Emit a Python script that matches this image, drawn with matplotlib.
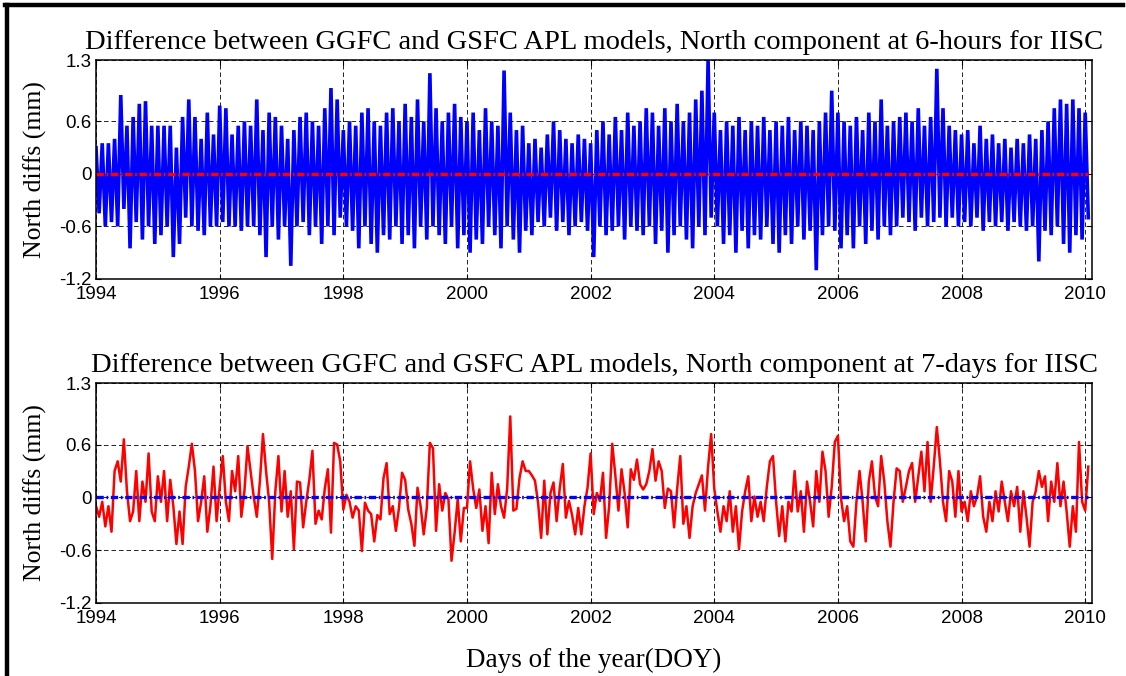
import numpy as np
import matplotlib
matplotlib.use("Agg")
import matplotlib.pyplot as plt
from matplotlib.lines import Line2D

# North component differences (mm)
# 6-hour series: upper / lower excursion in each 0.1-year bin, 1994.0 onwards
north_6h_hi = [
    0.30, 0.35, 0.35, 0.40, 0.90, 0.55, 0.65, 0.80, 0.83, 0.55,
    0.55, 0.55, 0.55, 0.30, 0.65, 0.85, 0.65, 0.40, 0.70, 0.45,
    0.78, 0.75, 0.45, 0.55, 0.60, 0.55, 0.85, 0.50, 0.70, 0.65,
    0.55, 0.40, 0.50, 0.65, 0.70, 0.60, 0.55, 0.75, 0.98, 0.85,
    0.50, 0.60, 0.55, 0.70, 0.75, 0.60, 0.55, 0.70, 0.75, 0.60,
    0.80, 0.65, 0.85, 0.60, 1.15, 0.75, 0.60, 0.70, 0.80, 0.65,
    0.60, 0.70, 0.50, 0.75, 0.60, 0.55, 1.18, 0.70, 0.50, 0.55,
    0.35, 0.40, 0.30, 0.45, 0.60, 0.50, 0.40, 0.35, 0.45, 0.40,
    0.35, 0.50, 0.60, 0.45, 0.65, 0.50, 0.70, 0.55, 0.60, 0.75,
    0.70, 0.55, 0.75, 0.60, 0.80, 0.60, 0.70, 0.85, 0.95, 1.30,
    0.70, 0.50, 0.60, 0.55, 0.65, 0.50, 0.60, 0.55, 0.65, 0.50,
    0.60, 0.55, 0.65, 0.50, 0.60, 0.55, 0.50, 0.60, 0.70, 0.95,
    0.70, 0.60, 0.55, 0.65, 0.50, 0.70, 0.60, 0.85, 0.55, 0.60,
    0.65, 0.70, 0.60, 0.75, 0.55, 0.65, 1.20, 0.75, 0.55, 0.50,
    0.45, 0.50, 0.35, 0.55, 0.40, 0.45, 0.35, 0.40, 0.30, 0.40,
    0.35, 0.45, 0.40, 0.50, 0.60, 0.75, 0.85, 0.80, 0.85, 0.75,
    0.70,
]
north_6h_lo = [
    -0.45, -0.60, -0.55, -0.60, -0.40, -0.85, -0.55, -0.75, -0.60, -0.80,
    -0.70, -0.60, -0.95, -0.80, -0.50, -0.60, -0.65, -0.70, -0.60, -0.60,
    -0.55, -0.60, -0.60, -0.65, -0.60, -0.60, -0.70, -0.95, -0.60, -0.75,
    -0.60, -1.05, -0.60, -0.55, -0.70, -0.60, -0.80, -0.60, -0.70, -0.50,
    -0.60, -0.65, -0.85, -0.60, -0.80, -0.90, -0.70, -0.75, -0.60, -0.80,
    -0.70, -0.85, -0.60, -0.75, -0.60, -0.70, -0.80, -0.60, -0.85, -0.70,
    -0.90, -0.75, -0.80, -0.60, -0.70, -0.85, -0.60, -0.75, -0.90, -0.65,
    -0.70, -0.55, -0.60, -0.50, -0.65, -0.55, -0.70, -0.60, -0.55, -0.65,
    -0.95, -0.60, -0.70, -0.65, -0.60, -0.75, -0.60, -0.65, -0.70, -0.60,
    -0.80, -0.65, -0.90, -0.70, -0.60, -0.75, -0.85, -0.60, -0.70, -0.50,
    -0.60, -0.80, -0.70, -0.90, -0.65, -0.85, -0.70, -0.75, -0.60, -0.80,
    -0.90, -0.70, -0.80, -0.60, -0.75, -0.65, -1.10, -0.70, -0.60, -0.65,
    -0.85, -0.70, -0.85, -0.60, -0.80, -0.65, -0.75, -0.60, -0.70, -0.60,
    -0.50, -0.55, -0.65, -0.50, -0.60, -0.55, -0.50, -0.60, -0.50, -0.60,
    -0.55, -0.60, -0.50, -0.65, -0.55, -0.60, -0.55, -0.65, -0.55, -0.60,
    -0.65, -0.60, -1.00, -0.65, -0.70, -0.60, -0.80, -0.90, -0.70, -0.75,
    -0.50,
]

# 7-day series, one value every 0.05 year from 1994.0
north_7d = [
    -0.10, -0.22, -0.05, -0.33, -0.10, -0.39, 0.30, 0.41, 0.18, 0.66,
    0.07, -0.27, -0.16, 0.30, -0.27, 0.18, -0.05, 0.50, -0.16, -0.27,
    0.24, -0.05, 0.30, -0.27, 0.20, -0.10, -0.53, -0.16, -0.53, 0.12,
    0.35, 0.61, 0.30, -0.27, -0.05, 0.24, -0.39, -0.10, 0.35, -0.27,
    0.12, 0.47, -0.05, -0.27, 0.30, 0.07, 0.47, -0.22, 0.07, 0.58,
    0.30, 0.01, -0.22, 0.18, 0.72, 0.30, -0.05, -0.70, 0.07, 0.47,
    -0.16, 0.30, -0.22, 0.07, -0.59, 0.18, 0.17, -0.34, -0.05, 0.20,
    0.53, -0.30, -0.15, -0.25, 0.10, 0.32, -0.40, 0.62, 0.60, 0.41,
    -0.14, 0.03, -0.05, -0.23, -0.10, -0.15, -0.61, -0.06, -0.15, -0.19,
    -0.50, -0.20, -0.25, 0.22, 0.39, -0.19, -0.10, -0.38, -0.12, 0.28,
    0.20, -0.14, -0.30, -0.55, 0.11, -0.10, -0.42, -0.12, 0.62, 0.56,
    -0.38, 0.15, -0.15, 0.05, -0.02, -0.72, -0.40, -0.02, -0.50, -0.12,
    -0.12, 0.41, 0.10, -0.12, 0.09, -0.38, -0.10, -0.52, 0.28, -0.19,
    0.15, -0.10, -0.23, 0.10, 0.92, -0.15, -0.13, 0.22, 0.41, 0.30,
    0.30, 0.25, 0.19, -0.06, -0.46, 0.19, -0.42, 0.05, 0.17, -0.27,
    0.10, 0.38, -0.23, -0.04, -0.20, -0.42, -0.12, -0.42, -0.10, 0.11,
    0.50, -0.19, 0.05, -0.04, 0.28, -0.46, -0.10, 0.61, 0.25, -0.15,
    0.32, 0.05, -0.34, 0.32, 0.20, 0.43, 0.15, 0.09, 0.15, 0.30,
    0.55, 0.19, 0.41, 0.30, -0.12, 0.10, 0.07, -0.34, 0.10, 0.47,
    -0.30, -0.10, -0.46, -0.10, 0.05, 0.15, 0.25, -0.15, 0.35, 0.72,
    0.10, -0.16, -0.39, -0.10, -0.27, 0.07, -0.39, -0.10, -0.59, -0.16,
    0.07, 0.24, -0.27, 0.01, -0.22, -0.05, -0.27, 0.12, 0.41, 0.47,
    -0.05, -0.44, -0.10, -0.50, -0.05, -0.16, 0.30, -0.16, 0.07, -0.39,
    0.18, -0.05, -0.33, 0.30, -0.05, 0.52, 0.30, -0.22, 0.12, 0.63,
    0.70, -0.01, -0.27, -0.10, -0.50, -0.56, -0.05, 0.30, -0.05, -0.50,
    0.18, 0.41, 0.01, -0.10, 0.47, 0.18, -0.27, -0.56, -0.05, 0.33,
    0.30, -0.05, 0.12, 0.30, 0.39, -0.05, 0.24, 0.52, 0.07, 0.63,
    -0.05, 0.35, 0.80, 0.41, -0.05, -0.27, 0.30, 0.18, -0.22, 0.30,
    -0.16, -0.05, -0.27, 0.07, -0.10, 0.01, 0.24, -0.22, -0.39, -0.05,
    -0.27, 0.07, -0.16, 0.18, -0.05, -0.27, 0.07, -0.10, 0.12, -0.39,
    0.07, -0.22, -0.56, -0.05, 0.07, 0.30, 0.12, 0.24, -0.27, 0.18,
    -0.05, 0.39, -0.10, 0.18, -0.16, -0.56, -0.10, -0.39, 0.63, -0.05,
    -0.15, 0.35,
]

start_year = 1994.0
x_ticks = [1994, 1996, 1998, 2000, 2002, 2004, 2006, 2008, 2010]
y_ticks = [-1.2, -0.6, 0, 0.6, 1.3]
y_tick_labels = ["-1.2", "-0.6", "0", "0.6", "1.3"]

title_6h = "Difference between GGFC and GSFC APL models, North component at 6-hours for IISC"
title_7d = "Difference between GGFC and GSFC APL models, North component at 7-days for IISC"

# 6-hour trace: swing up and down once per 0.1-year bin, drawn thick so the
# middle of the band closes up and only the excursions stay as spikes
v6 = np.empty(2 * len(north_6h_hi))
v6[0::2] = north_6h_hi
v6[1::2] = north_6h_lo
t6 = start_year + 0.05 * np.arange(len(v6))
v7 = np.array(north_7d)
t7 = start_year + 0.05 * np.arange(len(v7))

serif = ["Liberation Serif", "DejaVu Serif"]
sans = ["Liberation Sans", "DejaVu Sans"]

fig = plt.figure(figsize=(11.26, 6.76), dpi=100)
ax1 = fig.add_axes([0.0853, 0.5873, 0.8845, 0.3239])
ax2 = fig.add_axes([0.0853, 0.1080, 0.8845, 0.3254])


def style_axes(ax, title):
    ax.set_xlim(1994.0, 2010.11)
    ax.set_ylim(-1.2, 1.3)
    ax.set_xticks(x_ticks)
    ax.set_yticks(y_ticks)
    ax.set_yticklabels(y_tick_labels)
    ax.tick_params(direction="in", length=3.5, width=0.8, top=True, right=True,
                   labelsize=13.5)
    ax.tick_params(axis="x", pad=5)
    ax.tick_params(axis="y", pad=3)
    for lab in ax.get_xticklabels() + ax.get_yticklabels():
        lab.set_family(sans)
    ax.grid(True, color="black", linewidth=0.6, dashes=(5.5, 3.5))
    ax.set_axisbelow(True)
    for sp in ax.spines.values():
        sp.set_linewidth(1.1)
    ax.set_title(title, family=serif, fontsize=20.5, pad=8)
    ax.set_ylabel("North diffs (mm)", family=serif, fontsize=18.5, labelpad=9)


ax1.plot(t6, v6, color="blue", linewidth=2.6, solid_joinstyle="miter")
ax1.plot([t6[0], t6[-1]], [0, 0], color="red", linewidth=2.4,
         dashes=[2.2, 0.8, 0.5, 0.8])
style_axes(ax1, title_6h)

ax2.plot(t7, v7, color="red", linewidth=1.8)
ax2.plot([t7[0], t7[-1]], [0, 0], color="blue", linewidth=2.4,
         dashes=[2.2, 0.8, 0.5, 0.8])
style_axes(ax2, title_7d)
ax2.set_xlabel("Days of the year(DOY)", family=serif, fontsize=19.5, labelpad=15)

# thick frame on the left and top edges of the figure
fig.add_artist(Line2D([0.0062, 0.0062], [0.0, 0.9925], color="black",
                      linewidth=3.2, transform=fig.transFigure))
fig.add_artist(Line2D([0.0045, 0.997], [0.9925, 0.9925], color="black",
                      linewidth=3.2, transform=fig.transFigure))

fig.savefig("out.png", dpi=100)
